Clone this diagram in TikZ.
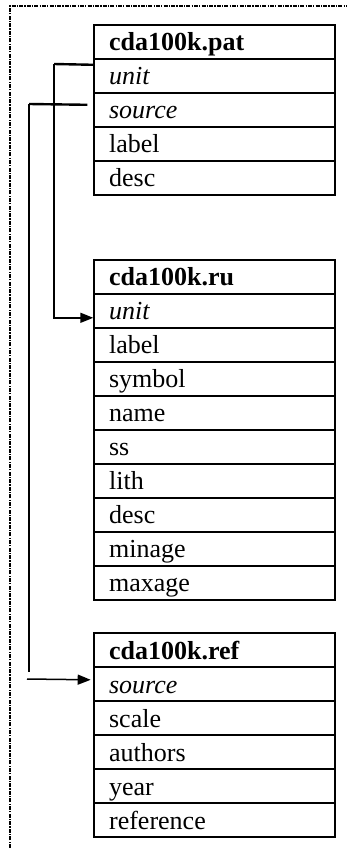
\documentclass[tikz,border=0pt]{standalone}
\usepackage{fontspec}
\setmainfont{Liberation Serif}
\usetikzlibrary{arrows.meta}
\begin{document}
\begin{tikzpicture}[x=1pt,y=-1pt,
  row/.style={draw, line width=1.6pt, anchor=north west, minimum width=241pt, minimum height=34pt,
    inner ysep=0pt, inner xsep=15pt, text width=211pt, align=left,
    text height=26pt, text depth=8pt, font=\fontsize{26pt}{30pt}\selectfont},
  conn/.style={line width=1.5pt},
  stub/.style={line width=2.4pt},
  arr/.style={conn, -{Triangle[length=13pt,width=10pt]}},
  frame/.style={line width=1.2pt, dash pattern=on 4pt off 1.2pt on 1.2pt off 1.2pt}]
\useasboundingbox (0,0) rectangle (347,848);
\draw[frame] (10,848) -- (10,6) -- (347,6);
% table cda100k.pat
\foreach \t [count=\i from 0] in {{\textbf{cda100k.pat}},{\textit{unit}},{\textit{source}},label,desc}
  \node[row] (pat\i) at (93.3,24+\i*34) {\t};
% table cda100k.ru
\foreach \t [count=\i from 0] in {{\textbf{cda100k.ru}},{\textit{unit}},label,symbol,name,ss,lith,desc,minage,maxage}
  \node[row] (ru\i) at (93.3,259+\i*34) {\t};
% table cda100k.ref
\foreach \t [count=\i from 0] in {{\textbf{cda100k.ref}},{\textit{source}},scale,authors,year,reference}
  \node[row] (ref\i) at (93.3,632.3+\i*34) {\t};
% unit link
\coordinate (ua) at (54,64);
\draw[stub] ([yshift=11pt]pat1.west) -- (ua);
\draw[arr] (ua) |- ([yshift=-7pt]ru1.west);
% source link
\coordinate (sa) at (29,104);
\coordinate (sb) at (29,671.7);
\coordinate (sc) at (27,679);
\draw[stub] ([xshift=-6pt,yshift=5pt]pat2.west) -- (sa);
\draw[conn] (sa) -- (sb);
\draw[arr] (sc) -- ([xshift=-2.6pt,yshift=4.3pt]ref1.west);
\end{tikzpicture}
\end{document}
